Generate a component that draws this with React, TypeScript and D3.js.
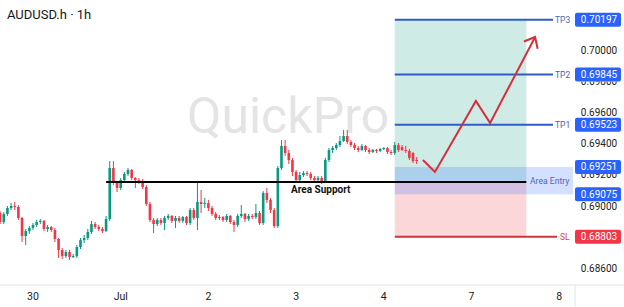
import React from "react";
import * as d3 from "d3";

// ---- data ----
const firstHour = -9; // hours relative to Jun 30 00:00 (trading time, weekend collapsed)
const opens = [
  0.68955, 0.68897, 0.68949, 0.68987, 0.69000, 0.68994, 0.68923, 0.68807, 0.68839, 0.68859,
  0.68878, 0.68897, 0.68904, 0.68852, 0.68865, 0.68846, 0.68788, 0.68717, 0.68678, 0.68704,
  0.68672, 0.68678, 0.68736, 0.68781, 0.68794, 0.68833, 0.68884, 0.68865, 0.68852, 0.68839,
  0.68916, 0.69244, 0.69148, 0.69116, 0.69167, 0.69206, 0.69232, 0.69180, 0.69167, 0.69161,
  0.69122, 0.69013, 0.68910, 0.68884, 0.68910, 0.68891, 0.68923, 0.68936, 0.68904, 0.68923,
  0.68904, 0.68929, 0.68891, 0.68974, 0.68923, 0.69026, 0.69013, 0.69019, 0.68987, 0.68949,
  0.68923, 0.68929, 0.68910, 0.68936, 0.68897, 0.68878, 0.68936, 0.68949, 0.68916, 0.68936,
  0.68929, 0.68955, 0.68891, 0.69084, 0.69039, 0.68974, 0.68871, 0.69244, 0.69386, 0.69341,
  0.69296, 0.69219, 0.69167, 0.69199, 0.69212, 0.69206, 0.69180, 0.69167, 0.69180, 0.69161,
  0.69296, 0.69360, 0.69373, 0.69392, 0.69418, 0.69450, 0.69412, 0.69392, 0.69373, 0.69360,
  0.69386, 0.69360, 0.69347, 0.69360, 0.69354, 0.69367, 0.69373, 0.69347, 0.69341, 0.69392,
  0.69379, 0.69360, 0.69354, 0.69341, 0.69296,
];
const highs = [
  0.68968, 0.68961, 0.69000, 0.69019, 0.69026, 0.69006, 0.68929, 0.68852, 0.68871, 0.68891,
  0.68910, 0.68916, 0.68910, 0.68878, 0.68871, 0.68859, 0.68794, 0.68730, 0.68717, 0.68717,
  0.68691, 0.68749, 0.68794, 0.68814, 0.68852, 0.68904, 0.68897, 0.68878, 0.68865, 0.68936,
  0.69289, 0.69289, 0.69161, 0.69180, 0.69219, 0.69244, 0.69238, 0.69186, 0.69180, 0.69174,
  0.69135, 0.69026, 0.68923, 0.68923, 0.68923, 0.68936, 0.68949, 0.68942, 0.68936, 0.68936,
  0.68936, 0.68936, 0.68987, 0.68987, 0.69148, 0.69103, 0.69051, 0.69039, 0.69000, 0.68961,
  0.68942, 0.68936, 0.68949, 0.68942, 0.68910, 0.68949, 0.69006, 0.68955, 0.68949, 0.68949,
  0.69013, 0.68968, 0.69096, 0.69116, 0.69051, 0.68987, 0.69257, 0.69424, 0.69424, 0.69360,
  0.69309, 0.69232, 0.69219, 0.69225, 0.69225, 0.69219, 0.69193, 0.69193, 0.69193, 0.69309,
  0.69373, 0.69386, 0.69405, 0.69450, 0.69489, 0.69489, 0.69424, 0.69405, 0.69386, 0.69399,
  0.69392, 0.69373, 0.69367, 0.69367, 0.69373, 0.69379, 0.69379, 0.69360, 0.69412, 0.69405,
  0.69392, 0.69386, 0.69367, 0.69347, 0.69315,
];
const lows = [
  0.68884, 0.68884, 0.68936, 0.68974, 0.68974, 0.68910, 0.68769, 0.68749, 0.68820, 0.68846,
  0.68865, 0.68884, 0.68839, 0.68833, 0.68833, 0.68769, 0.68666, 0.68659, 0.68666, 0.68653,
  0.68666, 0.68666, 0.68723, 0.68762, 0.68781, 0.68820, 0.68852, 0.68839, 0.68826, 0.68833,
  0.68904, 0.69135, 0.69090, 0.69103, 0.69154, 0.69193, 0.69167, 0.69116, 0.69141, 0.69109,
  0.69000, 0.68897, 0.68826, 0.68871, 0.68878, 0.68846, 0.68910, 0.68891, 0.68859, 0.68891,
  0.68891, 0.68878, 0.68878, 0.68910, 0.68846, 0.68955, 0.68987, 0.68968, 0.68936, 0.68910,
  0.68910, 0.68897, 0.68897, 0.68884, 0.68833, 0.68865, 0.68923, 0.68897, 0.68904, 0.68916,
  0.68916, 0.68878, 0.68878, 0.69019, 0.68955, 0.68859, 0.68859, 0.69232, 0.69322, 0.69270,
  0.69193, 0.69148, 0.69154, 0.69186, 0.69193, 0.69167, 0.69154, 0.69154, 0.69141, 0.69148,
  0.69283, 0.69341, 0.69360, 0.69379, 0.69412, 0.69399, 0.69379, 0.69360, 0.69347, 0.69354,
  0.69347, 0.69334, 0.69341, 0.69341, 0.69347, 0.69360, 0.69334, 0.69328, 0.69328, 0.69347,
  0.69354, 0.69341, 0.69296, 0.69277, 0.69270,
];
const closes = [
  0.68897, 0.68949, 0.68987, 0.69000, 0.68994, 0.68923, 0.68807, 0.68839, 0.68859, 0.68878,
  0.68897, 0.68904, 0.68852, 0.68865, 0.68846, 0.68788, 0.68717, 0.68678, 0.68704, 0.68672,
  0.68678, 0.68736, 0.68781, 0.68794, 0.68833, 0.68884, 0.68865, 0.68852, 0.68839, 0.68916,
  0.69244, 0.69148, 0.69116, 0.69167, 0.69206, 0.69232, 0.69180, 0.69167, 0.69161, 0.69122,
  0.69013, 0.68910, 0.68884, 0.68910, 0.68891, 0.68923, 0.68936, 0.68904, 0.68923, 0.68904,
  0.68929, 0.68891, 0.68974, 0.68923, 0.69026, 0.69013, 0.69019, 0.68987, 0.68949, 0.68923,
  0.68929, 0.68910, 0.68936, 0.68897, 0.68878, 0.68936, 0.68949, 0.68916, 0.68936, 0.68929,
  0.68955, 0.68891, 0.69084, 0.69039, 0.68974, 0.68871, 0.69244, 0.69386, 0.69341, 0.69296,
  0.69219, 0.69167, 0.69199, 0.69212, 0.69206, 0.69180, 0.69167, 0.69180, 0.69161, 0.69296,
  0.69360, 0.69373, 0.69392, 0.69418, 0.69450, 0.69412, 0.69392, 0.69373, 0.69360, 0.69386,
  0.69360, 0.69347, 0.69360, 0.69354, 0.69367, 0.69373, 0.69347, 0.69341, 0.69392, 0.69360,
  0.69360, 0.69354, 0.69309, 0.69289, 0.69289,
];

const xTickHours = [0, 24, 48, 72, 96, 120, 144];
const xTickLabels = ["30", "Jul", "2", "3", "4", "7", "8"];
const yTickValues = [0.686, 0.69, 0.694, 0.696, 0.7];
const yTickPartial = [0.692, 0.698];

const tpNames = ["TP1", "TP2", "TP3"];
const tpPrices = [0.69523, 0.69845, 0.70197];
const slPrice = 0.68803;
const entryTop = 0.69251;
const entryBottom = 0.69075;
const supportPrice = 0.69155;
const supportStartHour = 20;
const boxStartHour = 99;
const boxEndHour = 135;
const supportLabelHour = 70.6;

const arrowHours = [106.7, 110, 121.2, 125.1, 137.4];
const arrowPrices = [0.69296, 0.69219, 0.69675, 0.69534, 0.70087];

const title = "AUDUSD.h · 1h";
const watermark = "QuickPro";

// ---- chart ----
const W = 624;
const H = 307;
const FONT = "Roboto, 'Noto Sans', sans-serif";
const GREEN = "#089981";
const RED = "#f23645";
const BLUE_LINE = "#2f5cc8";
const BLUE_LABEL = "#2962ff";
const SL_LINE = "#c9363f";

export default function App() {
  const x = d3.scaleLinear().domain([0, 144]).range([33, 559.2]);
  const y = d3.scaleLinear().domain([0.69, 0.7]).range([206, 50.5]);
  const paneRight = 575;
  const axisY = 285;
  const bodyW = 2.6;

  const candles = closes.map((c, i) => ({
    h: firstHour + i,
    o: opens[i],
    hi: highs[i],
    lo: lows[i],
    c,
  }));

  const bx0 = x(boxStartHour);
  const bx1 = x(boxEndHour);
  const tp3 = tpPrices[tpPrices.length - 1];

  const arrowPts: [number, number][] = arrowHours.map((h, i) => [x(h), y(arrowPrices[i])]);
  const line = d3.line();
  const tip = arrowPts[arrowPts.length - 1];
  const prev = arrowPts[arrowPts.length - 2];
  const ang = Math.atan2(prev[1] - tip[1], prev[0] - tip[0]);
  const headLen = 12;
  const barb = (a: number): [number, number] => [tip[0] + headLen * Math.cos(a), tip[1] + headLen * Math.sin(a)];
  const b1 = barb(ang + (40 * Math.PI) / 180);
  const b2 = barb(ang - (40 * Math.PI) / 180);

  const labelBox = (p: number, color: string, key: string) => (
    <g key={key}>
      <rect x={575} y={y(p) - 7} width={46} height={14} rx={2} fill={color} />
      <text x={599} y={y(p)} dy="0.35em" textAnchor="middle" fontSize={10} fill="#fff" fontFamily={FONT}>
        {p.toFixed(5)}
      </text>
    </g>
  );

  return (
    <svg
      width={W}
      height={H}
      style={{ position: "absolute", left: 0, top: 0, background: "#fff" }}
      fontFamily={FONT}
    >
      <defs>
        <clipPath id="partialTop">
          <rect x={570} y={0} width={54} height={H} />
        </clipPath>
      </defs>
      <rect width={W} height={H} fill="#fff" />
      {/* watermark */}
      <text x={187} y={133} fontSize={50} fill="#e4e4e4" fontFamily={FONT}>
        {watermark}
      </text>

      {/* target / stop zones */}
      <rect x={bx0} y={y(tp3)} width={bx1 - bx0} height={y(supportPrice) - y(tp3)} fill="rgba(8,153,129,0.2)" />
      <rect x={bx0} y={y(supportPrice)} width={bx1 - bx0} height={y(slPrice) - y(supportPrice)} fill="rgba(242,54,69,0.2)" />
      {/* entry area */}
      <rect
        x={bx0}
        y={y(entryTop)}
        width={paneRight - bx0 - 2}
        height={y(entryBottom) - y(entryTop)}
        fill="rgba(41,98,255,0.2)"
      />
      <text x={530} y={(y(entryTop) + y(entryBottom)) / 2} dy="0.35em" fontSize={8.6} fill="#4a68b8">
        Area Entry
      </text>

      {/* candles */}
      {candles.map((d, i) => {
        const col = d.c >= d.o ? GREEN : RED;
        const cx = x(d.h);
        const top = y(Math.max(d.o, d.c));
        const bot = y(Math.min(d.o, d.c));
        return (
          <g key={i}>
            <line x1={cx} x2={cx} y1={y(d.hi)} y2={y(d.lo)} stroke={col} strokeWidth={1} />
            <rect x={cx - bodyW / 2} y={top} width={bodyW} height={Math.max(1, bot - top)} fill={col} />
          </g>
        );
      })}

      {/* support line */}
      <line
        x1={x(supportStartHour)}
        x2={bx1}
        y1={y(supportPrice)}
        y2={y(supportPrice)}
        stroke="#000"
        strokeWidth={2}
      />
      <text x={x(supportLabelHour)} y={y(supportPrice) + 11} fontSize={10} fontWeight="bold" fill="#111">
        Area Support
      </text>

      {/* TP lines */}
      {tpPrices.map((p, i) => (
        <g key={"tp" + i}>
          <line x1={bx0} x2={553} y1={y(p)} y2={y(p)} stroke={BLUE_LINE} strokeWidth={2} />
          <text x={555} y={y(p)} dy="0.35em" fontSize={8.5} fill="#4a64b0">
            {tpNames[i]}
          </text>
        </g>
      ))}
      {/* SL line */}
      <line x1={bx0} x2={557} y1={y(slPrice)} y2={y(slPrice)} stroke={SL_LINE} strokeWidth={2} />
      <text x={560} y={y(slPrice)} dy="0.35em" fontSize={8.5} fill="#d2454f">
        SL
      </text>

      {/* arrow */}
      <path d={line(arrowPts) || ""} fill="none" stroke="#d3303d" strokeWidth={2} strokeLinejoin="miter" />
      <path d={line([b1, tip, b2]) || ""} fill="none" stroke="#d3303d" strokeWidth={2} />

      {/* y axis ticks */}
      {yTickValues.map((v) => (
        <text key={v} x={599} y={y(v)} dy="0.35em" textAnchor="middle" fontSize={10} fill="#222">
          {v.toFixed(5)}
        </text>
      ))}
      {/* ticks partly hidden behind price labels: only the uncovered sliver is drawn */}
      {yTickPartial.map((v) => {
        const edge = v > 0.695 ? y(0.69845) + 7 : y(entryTop) + 7;
        return (
          <g key={"p" + v}>
            <clipPath id={"clip" + v}>
              <rect x={570} y={edge} width={54} height={8} />
            </clipPath>
            <text
              x={599}
              y={y(v)}
              dy="0.35em"
              textAnchor="middle"
              fontSize={10}
              fill="#222"
              clipPath={`url(#clip${v})`}
            >
              {v.toFixed(5)}
            </text>
          </g>
        );
      })}

      {/* price labels */}
      {tpPrices.map((p, i) => labelBox(p, BLUE_LABEL, "lt" + i))}
      {labelBox(entryTop, BLUE_LABEL, "le1")}
      {labelBox(entryBottom, BLUE_LABEL, "le2")}
      {labelBox(slPrice, RED, "lsl")}

      {/* x axis */}
      <line x1={0} x2={W} y1={axisY} y2={axisY} stroke="#e0e3eb" strokeWidth={1} />
      <line x1={paneRight} x2={paneRight} y1={axisY} y2={H} stroke="#e0e3eb" strokeWidth={1} />
      {xTickHours.map((h, i) => (
        <text key={h} x={x(h)} y={296} dy="0.35em" textAnchor="middle" fontSize={10.5} fill="#222">
          {xTickLabels[i]}
        </text>
      ))}

      {/* title */}
      <text x={7} y={19} fontSize={13} fill="#131722">
        {title}
      </text>
    </svg>
  );
}
